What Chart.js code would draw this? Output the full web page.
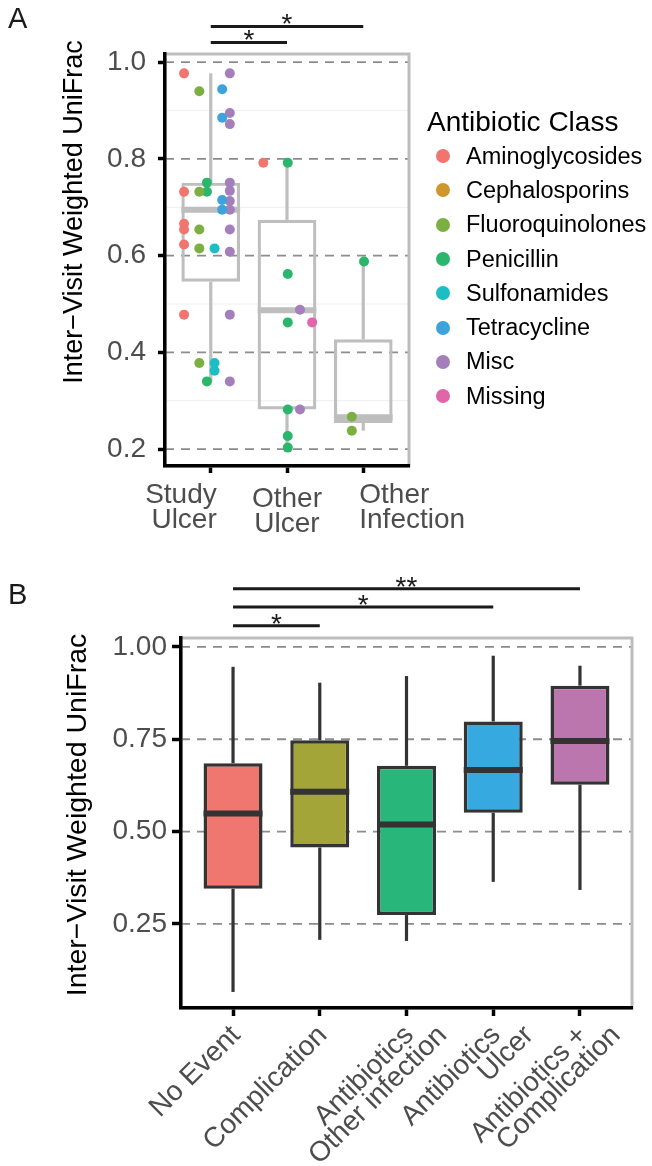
<!DOCTYPE html>
<html>
<head>
<meta charset="utf-8">
<title>Inter-visit weighted UniFrac</title>
<script src="https://cdn.jsdelivr.net/npm/chart.js@4.4.0/dist/chart.umd.min.js"></script>
<style>
  html, body { margin: 0; padding: 0; background: #fff; }
  body { width: 652px; height: 1166px; position: relative; overflow: hidden;
         font-family: 'Liberation Sans', Arial, Helvetica, sans-serif; }
  canvas { position: absolute; left: 0; }
  #chartA { top: 0; }
  #chartB { top: 560px; }
  .tag { position: absolute; left: 8px; font-size: 29px; line-height: 29px; color: #1a1a1a; }
  #legendA { position: absolute; left: 427px; top: 105px; color: #000; }
  #legendA .title { font-size: 28px; line-height: 34px; height: 34px; white-space: nowrap; }
  #legendA .item { height: 34.3px; display: flex; align-items: center; font-size: 23.5px; white-space: nowrap; }
  #legendA .dot { width: 14px; height: 14px; border-radius: 50%; margin-left: 9px; margin-right: 16px; }
</style>
</head>
<body>
<canvas id="chartA" width="652" height="560"></canvas>
<canvas id="chartB" width="652" height="606"></canvas>
<div id="legendA"></div>
<div class="tag" style="top:4px">A</div>
<div class="tag" style="top:580px">B</div>
<script>
const FONT = "'Liberation Sans', Arial, Helvetica, sans-serif";
const TEXT_GREY = '#4d4d4d';
const Y_TITLE = 'Inter\u2212Visit Weighted UniFrac';

// ---------- Panel A: antibiotic class per visit ----------
const groupsA = ['Study Ulcer', 'Other Ulcer', 'Other Infection'];
const labelLinesA = [['Study', 'Ulcer'], ['Other', 'Ulcer'], ['Other', 'Infection']];
const yTicksA = [0.2, 0.4, 0.6, 0.8, 1.0];
const minorTicksA = [0.3, 0.5, 0.7, 0.9];

// box stats (whisker low, q1, median, q3, whisker high)
const lowA = [0.340, 0.203, 0.238];
const q1A = [0.546, 0.282, 0.254];
const medianA = [0.695, 0.487, 0.266];
const q3A = [0.751, 0.674, 0.427];
const highA = [0.977, 0.792, 0.588];

const classNames = ['Aminoglycosides', 'Cephalosporins', 'Fluoroquinolones', 'Penicillin',
  'Sulfonamides', 'Tetracycline', 'Misc', 'Missing'];
const classColors = ['#F1756E', '#CF962C', '#7CAF42', '#2AB66B', '#1CBEC3', '#3DA3DD', '#A57FBB', '#E065AA'];

// points per class: [group (1..3), value]
const aminoglycosides = [[1, 0.977], [1, 0.732], [1, 0.666], [1, 0.654], [1, 0.623], [1, 0.478], [2, 0.792]];
const cephalosporins = [];
const fluoroquinolones = [[1, 0.940], [1, 0.732], [1, 0.654], [1, 0.615], [1, 0.378], [3, 0.267], [3, 0.238]];
const penicillin = [[1, 0.751], [1, 0.732], [1, 0.340], [2, 0.792], [2, 0.562], [2, 0.462], [2, 0.282],
  [2, 0.227], [2, 0.203], [3, 0.588]];
const sulfonamides = [[1, 0.615], [1, 0.378], [1, 0.362]];
const tetracycline = [[1, 0.944], [1, 0.885], [1, 0.715], [1, 0.695]];
const misc = [[1, 0.977], [1, 0.895], [1, 0.872], [1, 0.751], [1, 0.734], [1, 0.713], [1, 0.695],
  [1, 0.654], [1, 0.608], [1, 0.478], [1, 0.340], [2, 0.488], [2, 0.282]];
const missing = [[2, 0.462]];
const classPoints = [aminoglycosides, cephalosporins, fluoroquinolones, penicillin,
  sulfonamides, tetracycline, misc, missing];

// horizontal dodge of each class inside each group (category units)
const dodgeA = [[-0.35, -0.31, 0], [-0.25, 0, 0], [-0.15, 0, -0.15], [-0.05, 0.01, 0.01],
  [0.05, 0, 0], [0.15, 0, 0], [0.25, 0.17, 0], [0.35, 0.33, 0]];

// significance bars: [from group, to group, height in y units, label]
const bracketsA = [[1, 2, 1.041, '*'], [1, 3, 1.074, '*']];

// ---------- Panel B: event type ----------
const groupsB = ['No Event', 'Complication', 'Antibiotics Other infection', 'Antibiotics Ulcer',
  'Antibiotics + Complication'];
const labelLinesB = [['No Event'], ['Complication'], ['Antibiotics', 'Other infection'],
  ['Antibiotics', 'Ulcer'], ['Antibiotics +', 'Complication']];
const colorsB = ['#F07670', '#A3A539', '#29B67A', '#36AAE0', '#BC76AE'];
const yTicksB = [0.25, 0.50, 0.75, 1.00];

const lowB = [0.066, 0.207, 0.204, 0.364, 0.342];
const q1B = [0.345, 0.457, 0.274, 0.551, 0.627];
const medianB = [0.549, 0.608, 0.519, 0.667, 0.745];
const q3B = [0.685, 0.747, 0.678, 0.798, 0.895];
const highB = [0.946, 0.903, 0.921, 0.976, 0.949];

const bracketsB = [[1, 2, 1.057, '*'], [1, 4, 1.108, '*'], [1, 5, 1.157, '**']];

// ---------- helpers ----------
function seg(ctx, x1, y1, x2, y2) {
  ctx.beginPath();
  ctx.moveTo(x1, y1);
  ctx.lineTo(x2, y2);
  ctx.stroke();
}

// draws grid, frame, whiskers, medians, brackets, axis title and x labels
function boxPlugin(cfg) {
  return {
    id: 'boxExtras',
    beforeDraw(chart) {
      const {ctx, chartArea: a, scales: {y}} = chart;
      ctx.save();
      ctx.strokeStyle = '#efefef';
      ctx.lineWidth = 1;
      cfg.minor.forEach(v => { const py = y.getPixelForValue(v); seg(ctx, a.left, py, a.right, py); });
      ctx.strokeStyle = '#8c8c8c';
      ctx.lineWidth = 1.8;
      ctx.setLineDash([9, 7]);
      cfg.major.forEach(v => { const py = y.getPixelForValue(v); seg(ctx, a.left, py, a.right, py); });
      ctx.setLineDash([]);
      ctx.strokeStyle = '#bdbdbd';
      ctx.lineWidth = 3;
      ctx.strokeRect(a.left, a.top, a.right - a.left, a.bottom - a.top);
      ctx.restore();
    },
    afterDatasetDraw(chart, args) {
      if (args.meta.type !== 'bar') return;
      const {ctx, scales: {y}} = chart;
      ctx.save();
      ctx.strokeStyle = cfg.lineColor;
      args.meta.data.forEach((bar, i) => {
        const half = bar.width / 2;
        ctx.lineWidth = 3.2;
        seg(ctx, bar.x, y.getPixelForValue(cfg.q3[i]), bar.x, y.getPixelForValue(cfg.high[i]));
        seg(ctx, bar.x, y.getPixelForValue(cfg.q1[i]), bar.x, y.getPixelForValue(cfg.low[i]));
        ctx.lineWidth = 6;
        const pm = y.getPixelForValue(cfg.median[i]);
        seg(ctx, bar.x - half, pm, bar.x + half, pm);
      });
      ctx.restore();
    },
    afterDraw(chart) {
      const {ctx, chartArea: a, scales: {x, y}} = chart;
      ctx.save();
      // significance brackets
      ctx.strokeStyle = '#1a1a1a';
      ctx.fillStyle = '#1a1a1a';
      ctx.lineWidth = 3;
      ctx.font = `28px ${FONT}`;
      ctx.textAlign = 'center';
      ctx.textBaseline = 'alphabetic';
      cfg.brackets.forEach(([g1, g2, h, txt]) => {
        const x1 = x.getPixelForValue(g1), x2 = x.getPixelForValue(g2), py = y.getPixelForValue(h);
        seg(ctx, x1, py, x2, py);
        ctx.fillText(txt, (x1 + x2) / 2, py + 7);
      });
      // y axis title
      ctx.save();
      ctx.fillStyle = '#000';
      ctx.font = `${cfg.titleSize}px ${FONT}`;
      ctx.textBaseline = 'middle';
      ctx.translate(cfg.titleX, a.top + cfg.titleDy);
      ctx.rotate(-Math.PI / 2);
      ctx.fillText(Y_TITLE, 0, 0);
      ctx.restore();
      // category labels
      ctx.fillStyle = TEXT_GREY;
      if (cfg.rotated) {
        ctx.font = `28px ${FONT}`;
        ctx.textAlign = 'right';
        ctx.textBaseline = 'middle';
        cfg.labels.forEach((lines, i) => {
          const px = x.getPixelForValue(i + 1);
          lines.forEach((t, j) => {
            ctx.save();
            ctx.translate(px + 3 + 33 * j, a.bottom + 23);
            ctx.rotate(-Math.PI / 4);
            ctx.fillText(t, 0, 0);
            ctx.restore();
          });
        });
      } else {
        ctx.font = `28px ${FONT}`;
        const aligns = ['right', 'center', 'left'];
        const shift = [6, 0, -4];
        const drop = [0, 4, 0];
        cfg.labels.forEach((lines, i) => {
          const px = x.getPixelForValue(i + 1);
          ctx.textAlign = aligns[i];
          lines.forEach((t, j) => ctx.fillText(t, px + shift[i], a.bottom + 37 + drop[i] + j * 25));
        });
      }
      ctx.restore();
    }
  };
}

function axisX(nGroups, height, tickLen) {
  return {
    type: 'linear', min: 0.4, max: nGroups + 0.6, offset: false,
    afterBuildTicks: s => { s.ticks = Array.from({length: nGroups}, (_, i) => ({value: i + 1})); },
    afterFit: s => { s.height = height; },
    ticks: {display: false},
    grid: {display: true, offset: false, drawOnChartArea: false, drawTicks: true,
      tickLength: tickLen, tickWidth: 3.5, tickColor: '#000'},
    border: {display: true, color: '#000', width: 3.5}
  };
}

function axisY(min, max, ticks, digits, width, tickLen, pad) {
  return {
    type: 'linear', min: min, max: max, beginAtZero: false,
    afterBuildTicks: s => { s.ticks = ticks.map(v => ({value: v})); },
    afterFit: s => { s.width = width; },
    ticks: {font: {family: FONT, size: 28}, color: TEXT_GREY, padding: pad,
      callback: v => Number(v).toFixed(digits)},
    grid: {display: true, drawOnChartArea: false, drawTicks: true,
      tickLength: tickLen, tickWidth: 3.5, tickColor: '#000'},
    border: {display: true, color: '#000', width: 3.5},
    title: {display: false}
  };
}

const commonOpts = {
  responsive: false,
  animation: false,
  events: [],
  plugins: {legend: {display: false}, tooltip: {enabled: false}}
};

// ---------- chart A ----------
new Chart(document.getElementById('chartA'), {
  type: 'bar',
  data: {
    datasets: [{
      type: 'bar',
      label: 'box',
      data: groupsA.map((g, i) => ({x: i + 1, y: [q1A[i], q3A[i]]})),
      backgroundColor: 'rgba(255,255,255,0)',
      borderColor: '#bebebe',
      borderWidth: 3.2,
      borderSkipped: false,
      barPercentage: 0.77,
      categoryPercentage: 1,
      order: 10
    }].concat(classNames.map((name, c) => ({
      type: 'scatter',
      label: name,
      data: classPoints[c].map(([g, v]) => ({x: g + dodgeA[c][g - 1], y: v})),
      backgroundColor: classColors[c],
      borderWidth: 0,
      pointRadius: 5,
      order: 0
    })))
  },
  options: Object.assign({}, commonOpts, {
    layout: {padding: {left: 0, top: 54, right: 243, bottom: 0}},
    scales: {
      x: axisX(groupsA.length, 94, 7),
      y: axisY(0.165, 1.017, yTicksA, 1, 165, 7, 12)
    }
  }),
  plugins: [boxPlugin({
    minor: minorTicksA, major: yTicksA, lineColor: '#bebebe',
    low: lowA, q1: q1A, median: medianA, q3: q3A, high: highA,
    brackets: bracketsA, labels: labelLinesA, rotated: false,
    titleX: 75, titleDy: 158, titleSize: 27
  })]
});

// legend A
const legendEl = document.getElementById('legendA');
legendEl.innerHTML = '<div class="title">Antibiotic Class</div>' + classNames.map((n, i) =>
  `<div class="item"><span class="dot" style="background:${classColors[i]}"></span>${n}</div>`).join('');

// ---------- chart B ----------
new Chart(document.getElementById('chartB'), {
  type: 'bar',
  data: {
    datasets: [{
      label: 'box',
      data: groupsB.map((g, i) => ({x: i + 1, y: [q1B[i], q3B[i]]})),
      backgroundColor: colorsB,
      borderColor: '#333333',
      borderWidth: 3.5,
      borderSkipped: false,
      barPercentage: 0.68,
      categoryPercentage: 1
    }]
  },
  options: Object.assign({}, commonOpts, {
    layout: {padding: {left: 0, top: 78, right: 20, bottom: 0}},
    scales: {
      x: axisX(groupsB.length, 158, 8),
      y: axisY(0.0225, 1.024, yTicksB, 2, 181, 9, 5)
    }
  }),
  plugins: [boxPlugin({
    minor: [], major: yTicksB, lineColor: '#333333',
    low: lowB, q1: q1B, median: medianB, q3: q3B, high: highB,
    brackets: bracketsB, labels: labelLinesB, rotated: true,
    titleX: 78, titleDy: 177, titleSize: 28.5
  })]
});
</script>
</body>
</html>
